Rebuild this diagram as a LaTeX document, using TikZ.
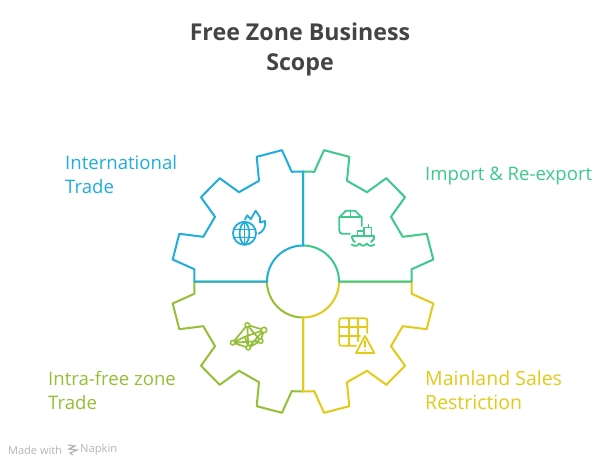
\documentclass[tikz,border=0pt]{standalone}
\usepackage{fontspec}
\setmainfont{Open Sans}
\definecolor{cblue}{HTML}{1FADDC}
\definecolor{cgreen}{HTML}{3CC98B}
\definecolor{cyellow}{HTML}{E2CA18}
\definecolor{clime}{HTML}{94BF36}
\definecolor{ctitle}{HTML}{444444}
\definecolor{cfoot}{HTML}{B4B4B4}
\tikzset{
  gearline/.style={line width=2pt,line join=round},
  ico/.style={line width=1.8pt,line join=round,line cap=round},
  lbl/.style={anchor=west,align=left,inner sep=0pt,font=\fontsize{18.6}{24}\selectfont},
  ttl/.style={align=center,inner sep=0pt,text=ctitle,font=\fontsize{23.2}{30}\selectfont\bfseries},
  dot/.style={circle,draw=clime,fill=white,line width=1.5pt,inner sep=0pt,minimum size=4.5pt},
}
\begin{document}
\begin{tikzpicture}[x=1pt,y=-1pt]
\useasboundingbox (0,0) rectangle (607,462);
\node[ttl] (title) at (300,49){Free Zone Business\\Scope};
% gear quarters, later ones lie on top
\foreach \sx/\sy/\col in {-1/1/clime,1/1/cyellow,1/-1/cgreen,-1/-1/cblue}{
  \draw[gearline,\col,shift={(303,281.5)},xscale=\sx,yscale=\sy]
    (0,110)--(11.3,109.7)--(21,131.3)--(46.3,124.7)--(44,100.7)--(64,89.3)--(83.3,103.3)
    --(102,84.3)--(88,64.7)--(99.7,44.7)--(123.7,47.7)--(130.3,22)--(108.7,12.3)--(108.7,0)
    --(36,0) .. controls (36,19.9) and (19.9,36) .. (0,36)--cycle;
}
% globe
\draw[ico,cblue] (244.5,233.3) circle (11.5);
\draw[ico,cblue] (244.5,221.8) .. controls (238,227) and (238,240) .. (244.5,244.8)
  .. controls (251,240) and (251,227) .. (244.5,221.8);
\draw[ico,cblue] (244.5,221.8)--(244.5,244.8) (233.5,229.5)--(255.5,229.5) (233.5,237.5)--(255.5,237.5);
\draw[ico,cblue] (245,219.3)--(247.3,215.3)--(250.7,219.3)--(255.7,210.7)--(260,217.3)--(260,222.5)--(265,221)
  .. controls (266,226) and (264,231) .. (258.7,233.7);
% box and ship
\draw[ico,cgreen] (350,233.7)--(342,233.7) .. controls (340,233.7) and (339.3,232) .. (339.3,230)--(339.3,217.3)
  --(346,210.7)--(355,210.7)--(361.7,217.3)--(361.7,226);
\draw[ico,cgreen] (339.3,217.3)--(361.7,217.3) (350.5,210.7)--(350.5,217.3);
\draw[ico,cgreen] (352,236)--(374,236)--(374,239) (352,236)--(352,238) .. controls (353,241) and (354,241) .. (355,242)
  (374,239) .. controls (373,241) and (372,241) .. (371,242);
\draw[ico,cgreen] (357.5,236)--(357.5,231)--(364,231)--(364,236) (364,231)--(364,227.5)--(371.5,227.5)--(371.5,236)
  (368.5,227.5)--(368.5,224.5);
\draw[ico,cgreen] (351.5,244.5) .. controls (355,246.5) and (357,246.5) .. (359.5,243.5)
  .. controls (362,246.5) and (364,246.5) .. (367,243.5) .. controls (369,246.5) and (371,246.5) .. (374.5,244.5);
% grid and warning
\draw[ico,cyellow] (367.3,333)--(367.3,320.5) .. controls (367.3,319) and (366.5,318.3) .. (365,318.3)--(341.5,318.3)
  .. controls (340,318.3) and (339.3,319) .. (339.3,320.5)--(339.3,343.5) .. controls (339.3,345) and (340,345.7) .. (341.5,345.7)--(356,345.7);
\draw[ico,cyellow] (349,318.3)--(349,345.7) (357.7,318.3)--(357.7,341) (339.3,327.3)--(367.3,327.3) (339.3,336.3)--(360,336.3);
\draw[ico,cyellow] (365,336)--(356,353)--(374.3,353)--cycle (365,341)--(365,347) (365,350.4)--(365,350.5);
% network
\draw[ico,clime,line width=1.7pt] (247.3,325)--(264,330)--(260.7,341)--(248.3,347.7)--(232.7,342.7)--cycle
  (247.3,325)--(248.3,347.7) (247.3,325)--(260.7,341) (264,330)--(248.3,347.7) (264,330)--(245,336.7)
  (232.7,342.7)--(260.7,341) (232.7,342.7)--(245,336.7) (245,336.7)--(248.3,347.7);
\node[dot] (n1) at (247.3,325){}; \node[dot,minimum size=5.5pt] (n2) at (264,330){}; \node[dot] (n3) at (260.7,341){};
\node[dot] (n4) at (248.3,347.7){}; \node[dot] (n5) at (232.7,342.7){};
% labels
\node[lbl,text=cblue] (intl) at (65,175){International\\Trade};
\node[lbl,text=cgreen] (impt) at (425,176){Import \& Re-export};
\node[lbl,text=clime] (intra) at (48,390){Intra-free zone\\Trade};
\node[lbl,text=cyellow,font=\fontsize{19.5}{24}\selectfont] (main) at (425,390){Mainland Sales\\Restriction};
\node[anchor=west,inner sep=0pt,text=cfoot,font=\fontsize{11}{13}\selectfont] (made) at (8,450){Made with};
\node[anchor=west,inner sep=0pt,text=cfoot,font=\fontsize{11.2}{13}\selectfont] (napkin) at (80,450){Napkin};
\draw[cfoot,line width=1.2pt] (68,445)--(75,446)--(69,449)--(77,450)--(70,453)--(73,455);
\end{tikzpicture}
\end{document}
